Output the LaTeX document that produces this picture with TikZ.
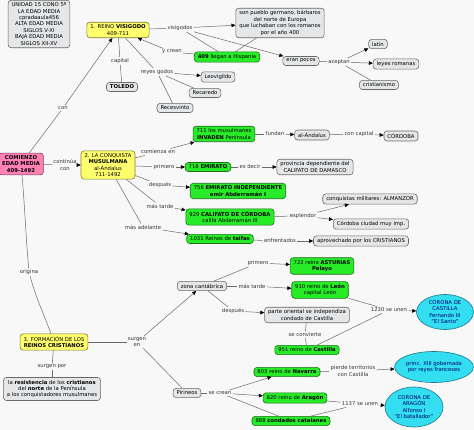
\documentclass[tikz,border=0pt]{standalone}
\usepackage{fontspec}
\setmainfont{DejaVu Sans}
\usepackage{xcolor}
\usepackage{tikz}
\usetikzlibrary{shapes.geometric, arrows.meta, positioning}

\definecolor{bgGray}{RGB}{248,248,248}
\definecolor{boxGray}{RGB}{228,230,232}
\definecolor{lineGray}{RGB}{105,105,105}
\definecolor{limeFill}{RGB}{40,235,40}
\definecolor{limeLine}{RGB}{30,110,30}
\definecolor{sunFill}{RGB}{255,255,110}
\definecolor{sunLine}{RGB}{125,125,45}
\definecolor{roseFill}{RGB}{255,130,180}
\definecolor{roseLine}{RGB}{130,60,90}
\definecolor{skyFill}{RGB}{50,222,240}
\definecolor{skyLine}{RGB}{30,120,140}

\newcommand\mapfont{\fontsize{5.3}{6.4}\selectfont}

\begin{document}
\begin{tikzpicture}[x=1pt, y=-1pt,
    % ── concept boxes ──
    grayBox/.style  = {draw=lineGray, fill=boxGray, rounded corners=3pt,
                       line width=0.6pt, font=\mapfont, align=center,
                       inner xsep=3.5pt, inner ysep=2.5pt},
    greenBox/.style = {grayBox, draw=limeLine, fill=limeFill},
    yellowBox/.style= {grayBox, draw=sunLine, fill=sunFill},
    pinkBox/.style  = {grayBox, draw=roseLine, fill=roseFill},
    cyanOval/.style = {ellipse, draw=skyLine, fill=skyFill, line width=0.6pt,
                       font=\mapfont, align=center, inner sep=0pt,
                       text=blue!45!black},
    % ── linking phrases ──
    phrase/.style   = {font=\mapfont, align=center, inner sep=1.2pt,
                       text=black!80},
    % ── connectors ──
    link/.style     = {draw=lineGray, line width=0.5pt},
    arr/.style      = {link, -{Triangle[length=4pt, width=3.6pt, color=black]}},
]

\useasboundingbox[fill=bgGray] (0,0) rectangle (474,430);

% =====================================================================
% Header and root concept
% =====================================================================
\node[grayBox] (info) at (39,24)
  {UNIDAD 15 CONO 5º\\LA EDAD MEDIA\\cpradaaula456\\ALTA EDAD MEDIA\\
   SIGLOS V-XI\\BAJA EDAD MEDIA\\SIGLOS XII-XV};
\node[pinkBox] (comienzo) at (21,164)
  {\textbf{COMIENZO}\\\textbf{EDAD MEDIA}\\\textbf{409-1492}};

% =====================================================================
% 1. REINO VISIGODO
% =====================================================================
\node[yellowBox] (visig) at (118,30) {1. REINO \textbf{VISIGODO}\\409-711};
\node[grayBox]   (toledo) at (122,87) {\textbf{TOLEDO}};
\node[grayBox]   (pueblo) at (280,23)
  {son pueblo germano, bárbaros\\del norte de Europa\\
   que luchaban con los romanos\\por el año 400};
\node[greenBox]  (llegan) at (227,57) {\textbf{409} llegan a Hispania};
\node[grayBox]   (leov)   at (218,77)  {Leovigildo};
\node[grayBox]   (recar)  at (205,93)  {Recaredo};
\node[grayBox]   (reces)  at (175,108) {Recesvinto};
\node[grayBox]   (pocos)  at (301,61)  {eran pocos};
\node[grayBox]   (latin)  at (378,44)  {latín};
\node[grayBox]   (leyes)  at (396,64)  {leyes romanas};
\node[grayBox]   (cristi) at (379,85)  {cristianismo};

\node[phrase] (lCon)    at (63,108)  {con};
\node[phrase] (lVisig)  at (180,28)  {visigodos};
\node[phrase] (lCrean)  at (172,52)  {y crean};
\node[phrase] (lCap)    at (120,61)  {capital};
\node[phrase] (lReyes)  at (157,72)  {reyes godos};
\node[phrase] (lAcep)   at (339,62)  {aceptan};

\draw[link] (comienzo) -- (lCon);  \draw[arr] (lCon) -- (visig);
\draw[link] (visig) -- (lVisig);
\draw[arr]  (lVisig) -- (pueblo);
\draw[arr]  (lVisig) -- (pocos);
\draw[link] (lVisig) -- (llegan);
\draw[link] (pueblo) -- (llegan);
\draw[link] (llegan) -- (lCrean);  \draw[arr] (lCrean) -- (visig);
\draw[link] (visig) -- (lCap);     \draw[link] (lCap) -- (toledo);
\draw[link] (visig) -- (lReyes);
\draw[arr]  (lReyes) -- (leov);
\draw[link] (lReyes) -- (recar);
\draw[link] (lReyes) -- (reces);
\draw[link] (pocos) -- (lAcep);
\draw[arr]  (lAcep) -- (latin);
\draw[arr]  (lAcep) -- (leyes);
\draw[link] (lAcep) -- (cristi);

% =====================================================================
% 2. LA CONQUISTA MUSULMANA
% =====================================================================
\node[yellowBox] (conq) at (108,165)
  {2. LA CONQUISTA\\\textbf{MUSULMANA}\\al-Ándalus\\711-1492};
\node[greenBox] (invaden)  at (224,134) {711 los musulmanes\\\textbf{INVADEN} Península};
\node[grayBox]  (andalus)  at (312,135) {al-Ándalus};
\node[grayBox]  (cordoba)  at (401,136) {CÓRDOBA};
\node[greenBox] (emirato)  at (208,167) {716 \textbf{EMIRATO}};
\node[grayBox]  (damasco)  at (315,167) {provincia dependiente del\\CALIFATO DE DAMASCO};
\node[greenBox] (emirInd)  at (238,191)
  {756 \textbf{EMIRATO INDEPENDIENTE}\\\textbf{emir Abderramán I}};
\node[greenBox] (califato) at (230,217)
  {929 \textbf{CALIFATO DE CÓRDOBA}\\califa Abderramán III};
\node[grayBox]  (almanzor) at (370,199) {conquistas militares: ALMANZOR};
\node[grayBox]  (ciudad)   at (371,224) {Córdoba ciudad muy imp.};
\node[greenBox] (taifas)   at (220,239) {1031 Reinos de \textbf{taifas}};
\node[grayBox]  (aprov)    at (361,241) {aprovechado por los CRISTIANOS};

\node[phrase] (lCont)   at (65,165)  {continúa\\con};
\node[phrase] (lComi)   at (158,152) {comienza en};
\node[phrase] (lPrim)   at (164,167) {primero};
\node[phrase] (lDesp)   at (160,185) {después};
\node[phrase] (lTarde)  at (160,206) {más tarde};
\node[phrase] (lAdel)   at (143,227) {más adelante};
\node[phrase] (lFund)   at (275,134) {fundan};
\node[phrase] (lCapC)   at (359,134) {con capital};
\node[phrase] (lDecir)  at (250,167) {es decir};
\node[phrase] (lEspl)   at (303,216) {esplendor};
\node[phrase] (lEnfr)   at (280,241) {enfrentados};

\draw[link] (comienzo) -- (lCont); \draw[arr] (lCont) -- (conq);
\draw[link] (conq) -- (lComi);     \draw[arr] (lComi) -- (invaden);
\draw[link] (conq) -- (lPrim);     \draw[arr] (lPrim) -- (emirato);
\draw[link] (conq) -- (lDesp);     \draw[arr] (lDesp) -- (emirInd);
\draw[link] (conq) -- (lTarde);    \draw[arr] (lTarde) -- (califato);
\draw[link] (conq) -- (lAdel);     \draw[arr] (lAdel) -- (taifas);
\draw[link] (invaden) -- (lFund);  \draw[arr] (lFund) -- (andalus);
\draw[link] (andalus) -- (lCapC);  \draw[arr] (lCapC) -- (cordoba);
\draw[link] (emirato) -- (lDecir); \draw[arr] (lDecir) -- (damasco);
\draw[link] (califato) -- (lEspl);
\draw[arr]  (lEspl) -- (almanzor);
\draw[arr]  (lEspl) -- (ciudad);
\draw[link] (taifas) -- (lEnfr);   \draw[arr] (lEnfr) -- (aprov);

% =====================================================================
% 3. FORMACIÓN DE LOS REINOS CRISTIANOS
% =====================================================================
\node[yellowBox] (form) at (54,342) {3. FORMACIÓN DE LOS\\\textbf{REINOS CRISTIANOS}};
\node[grayBox] (resist) at (52,389)
  {la \textbf{resistencia} de los \textbf{cristianos}\\
   del \textbf{norte} de la Península\\a los conquistadores musulmanes};
\node[grayBox]  (cantab)   at (202,286) {zona cantábrica};
\node[greenBox] (asturias) at (322,266) {722 reino \textbf{ASTURIAS}\\\textbf{Pelayo}};
\node[greenBox] (leon)     at (320,290) {910 reino de \textbf{León}\\capital León};
\node[grayBox]  (oriental) at (307,315) {parte oriental se independiza\\condado de Castilla};
\node[greenBox] (castilla) at (307,350) {951 reino de \textbf{Castilla}};
\node[cyanOval, minimum width=57pt, minimum height=35pt] (corCast) at (445,312)
  {CORONA DE\\CASTILLA\\Fernando III\\"El Santo"};
\node[grayBox]  (pirineos) at (187,393) {Pirineos};
\node[greenBox] (navarra)  at (287,372) {803 reino de \textbf{Navarra}};
\node[greenBox] (aragon)   at (295,398) {820 reino de \textbf{Aragón}};
\node[greenBox] (catal)    at (291,421) {988 \textbf{condados catalanes}};
\node[cyanOval, minimum width=68pt, minimum height=31pt] (franc) at (434,367)
  {princ. XIII gobernada\\por reyes franceses};
\node[cyanOval, minimum width=58pt, minimum height=40pt] (corArag) at (414,407)
  {CORONA DE\\ARAGÓN\\Alfonso I\\"El batallador"};

\node[phrase] (lOrig)   at (29,272)  {origina};
\node[phrase] (lSurgen) at (137,342) {surgen\\en};
\node[phrase] (lPor)    at (52,367)  {surgen por};
\node[phrase] (lPrim2)  at (258,263) {primero};
\node[phrase] (lTarde2) at (252,286) {más tarde};
\node[phrase] (lDesp2)  at (233,311) {después};
\node[phrase] (lConv)   at (305,335) {se convierte};
\node[phrase] (lUnen1)  at (389,310) {1230 se unen};
\node[phrase] (lCrean2) at (220,393) {se crean};
\node[phrase] (lPierde) at (353,371) {pierde territorios\\con Castilla};
\node[phrase] (lUnen2)  at (360,404) {1137 se unen};

\draw[link] (comienzo) to[out=-85, in=95] (lOrig);
\draw[link] (lOrig) to[out=-75, in=110] (form);
\draw[link] (form) -- (lSurgen);
\draw[arr]  (lSurgen) -- (cantab);
\draw[link] (lSurgen) -- (pirineos);
\draw[link] (form) -- (lPor);      \draw[link] (lPor) -- (resist);
\draw[link] (cantab) -- (lPrim2);  \draw[arr] (lPrim2) -- (asturias);
\draw[link] (cantab) -- (lTarde2); \draw[arr] (lTarde2) -- (leon);
\draw[link] (cantab) -- (lDesp2);  \draw[arr] (lDesp2) -- (oriental);
\draw[link] (oriental) -- (lConv); \draw[link] (lConv) -- (castilla);
\draw[link] (leon) -- (lUnen1);
\draw[link] (castilla) -- (lUnen1);
\draw[arr]  (lUnen1) -- (corCast);
\draw[link] (pirineos) -- (lCrean2);
\draw[arr]  (lCrean2) -- (navarra);
\draw[arr]  (lCrean2) -- (aragon);
\draw[link] (lCrean2) -- (catal);
\draw[link] (navarra) -- (lPierde); \draw[arr] (lPierde) -- (franc);
\draw[link] (aragon) -- (lUnen2);
\draw[link] (catal) -- (lUnen2);
\draw[arr]  (lUnen2) -- (corArag);

\end{tikzpicture}
\end{document}
